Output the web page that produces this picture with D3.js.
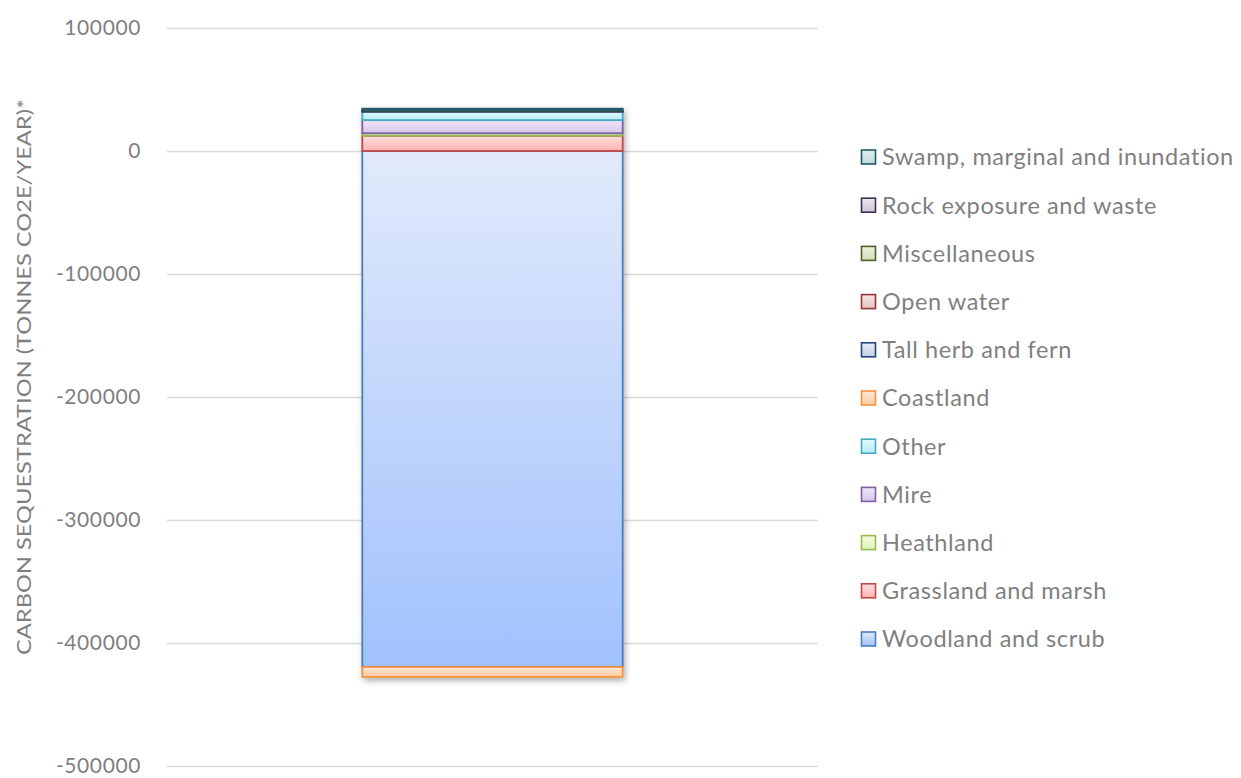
<!DOCTYPE html>
<html>
<head>
<meta charset="utf-8">
<script src="https://cdn.jsdelivr.net/npm/d3@7"></script>
<style>
  body { margin: 0; background: #fff; }
  svg text { font-family: Lato, "Open Sans", sans-serif; fill: #7f7f7f; }
</style>
</head>
<body>
<svg id="chart" width="1241" height="778"></svg>
<script>
// series, in Excel's series order (bottom of legend = first)
let categories = [
  "Woodland and scrub", "Grassland and marsh", "Heathland", "Mire", "Other",
  "Coastland", "Tall herb and fern", "Open water", "Miscellaneous",
  "Rock exposure and waste", "Swamp, marginal and inundation"
];
let values = [-419500, 12400, 2000, 10700, 6800, -8100, 300, 200, 300, 200, 1500];
let yTicks = [100000, 0, -100000, -200000, -300000, -400000, -500000];

// border colour, gradient top, gradient bottom
let palette = {
  "Woodland and scrub": ["#4a7ebb", "#e1eafb", "#a1c1fd"],
  "Grassland and marsh": ["#be4b48", "#ffdede", "#ffb3b3"],
  "Heathland": ["#98b954", "#f1fbe0", "#dcf5b5"],
  "Mire": ["#7d60a0", "#eee6f7", "#d6c7ec"],
  "Other": ["#46aac5", "#e0f8fd", "#b9eefb"],
  "Coastland": ["#f69240", "#ffe9d8", "#ffc9a0"],
  "Tall herb and fern": ["#1f497d", "#e6ebf3", "#c5d0e0"],
  "Open water": ["#943634", "#f5e3e3", "#e5c2c2"],
  "Miscellaneous": ["#4f6228", "#eaf0dc", "#d1deb6"],
  "Rock exposure and waste": ["#3f3151", "#e9e5ef", "#cdc5d9"],
  "Swamp, marginal and inundation": ["#215968", "#e0eef2", "#bcd9e2"]
};

let svg = d3.select("#chart");
let defs = svg.append("defs");

categories.forEach((c, i) => {
  let g = defs.append("linearGradient")
    .attr("id", `grad${i}`)
    .attr("x1", 0).attr("y1", 0).attr("x2", 0).attr("y2", 1);
  g.append("stop").attr("offset", "0%").attr("stop-color", palette[c][1]);
  g.append("stop").attr("offset", "100%").attr("stop-color", palette[c][2]);
});

let shadow = defs.append("filter").attr("id", "shadow")
  .attr("x", "-10%").attr("y", "-10%").attr("width", "130%").attr("height", "130%");
shadow.append("feDropShadow")
  .attr("dx", 2).attr("dy", 3).attr("stdDeviation", 3)
  .attr("flood-color", "#000").attr("flood-opacity", 0.3);

let left = 167, right = 818;

let yScale = d3.scaleLinear()
  .domain([-500000, 100000])
  .range([766, 28]);

let xScale = d3.scaleBand()
  .domain(["total"])
  .range([left, right])
  .paddingInner(0)
  .paddingOuter(0.75);

// gridlines + labels (plain hyphen minus, like Excel)
let yAxis = d3.axisLeft(yScale)
  .tickValues(yTicks)
  .tickFormat(d => String(d))
  .tickSize(-(right - left))
  .tickPadding(26);

let axisG = svg.append("g")
  .attr("transform", `translate(${left},0)`)
  .call(yAxis);
axisG.select(".domain").remove();
axisG.selectAll(".tick line").attr("stroke", "#d9d9d9").attr("stroke-width", 1.3);
axisG.selectAll(".tick text")
  .style("font-size", "21px")
  .style("letter-spacing", "0.6px")
  .attr("fill", "#7f7f7f");

// stacked bar
let row = { key: "total" };
categories.forEach((c, i) => row[c] = values[i]);

let stacked = d3.stack()
  .keys(categories)
  .offset(d3.stackOffsetDiverging)([row]);

let barG = svg.append("g").attr("filter", "url(#shadow)");

barG.selectAll("rect")
  .data(stacked)
  .join("rect")
  .attr("x", xScale("total"))
  .attr("width", xScale.bandwidth())
  .attr("y", d => yScale(Math.max(d[0][0], d[0][1])))
  .attr("height", d => Math.abs(yScale(d[0][0]) - yScale(d[0][1])))
  .attr("fill", (d, i) => `url(#grad${i})`)
  .attr("stroke", d => palette[d.key][0])
  .attr("stroke-width", 1.8);

// axis title
svg.append("text")
  .attr("transform", "translate(31,377) rotate(-90)")
  .attr("text-anchor", "middle")
  .attr("textLength", 556)
  .attr("lengthAdjust", "spacingAndGlyphs")
  .style("font-size", "20px")
  .text("CARBON SEQUESTRATION (TONNES CO2E/YEAR)*");

// legend, reversed like Excel
let legendItems = categories.slice().reverse();
let legend = svg.append("g").attr("transform", "translate(861,157)");

let item = legend.selectAll("g")
  .data(legendItems)
  .join("g")
  .attr("transform", (d, i) => `translate(0,${i * 48.2})`);

item.append("rect")
  .attr("x", 0.5).attr("y", -7)
  .attr("width", 14).attr("height", 14)
  .attr("fill", d => `url(#grad${categories.indexOf(d)})`)
  .attr("stroke", d => palette[d][0])
  .attr("stroke-width", 1.6);

item.append("text")
  .attr("x", 21)
  .attr("dy", "0.36em")
  .style("font-size", "23.5px")
  .style("letter-spacing", "0.6px")
  .text(d => d);
</script>
</body>
</html>
